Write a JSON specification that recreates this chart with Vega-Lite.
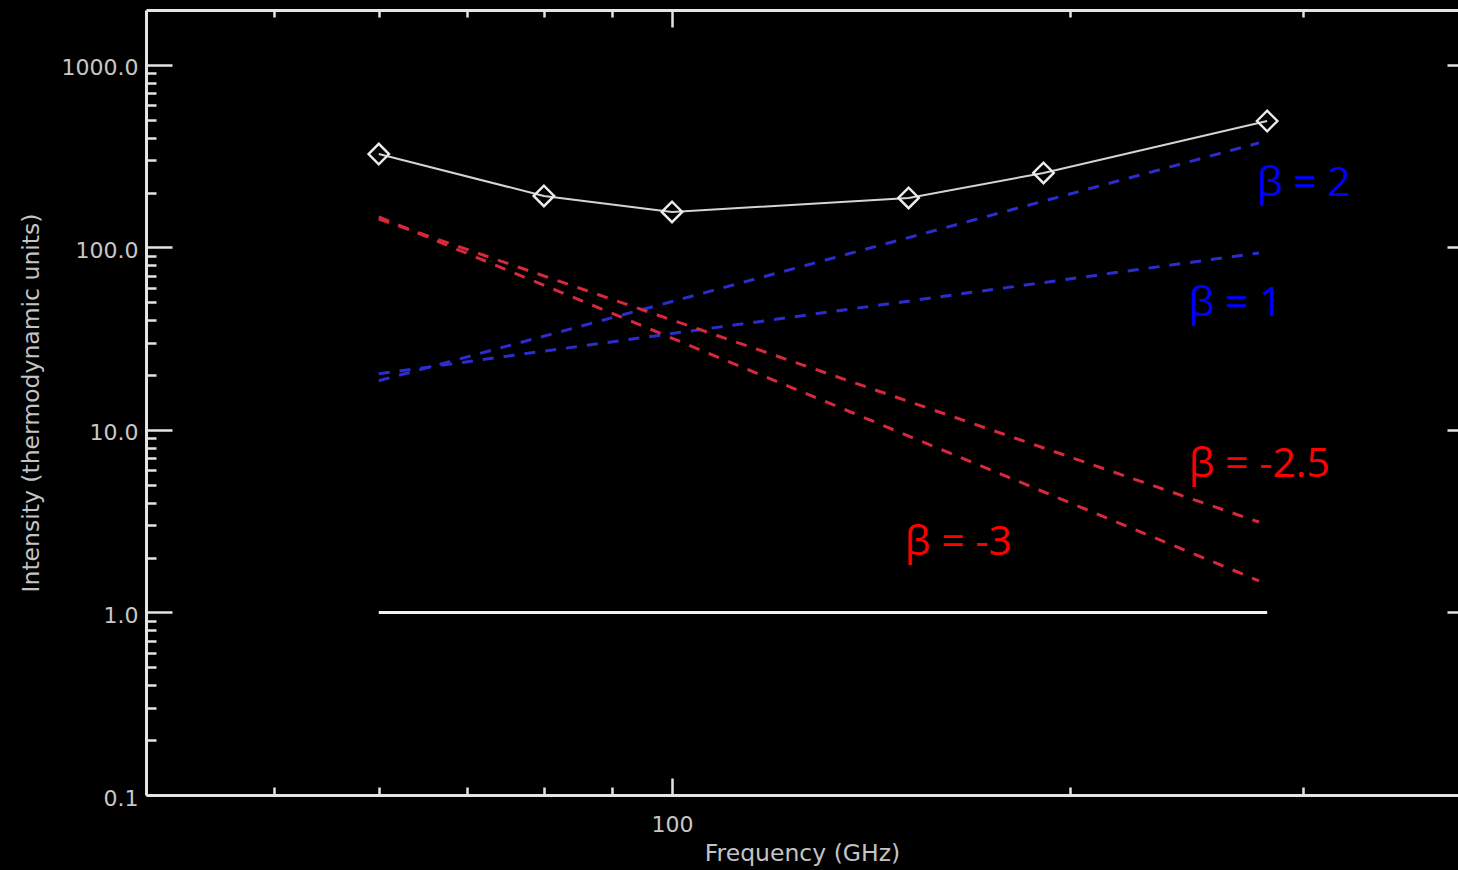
{
  "$schema": "https://vega.github.io/schema/vega-lite/v6.json",
  "width": 1312,
  "height": 785,
  "autosize": {"type": "none"},
  "padding": {"left": 146, "top": 10, "right": 0, "bottom": 75},
  "background": "#000000",
  "config": {
    "view": {"stroke": null},
    "axis": {
      "grid": false,
      "domainColor": "#e4e4e4",
      "domainWidth": 3,
      "tickColor": "#e4e4e4",
      "tickWidth": 2.5,
      "labelColor": "#c8c8c8",
      "labelFont": "DejaVu Sans",
      "labelFontSize": 22,
      "titleColor": "#c4c4c4",
      "titleFont": "DejaVu Sans",
      "titleFontSize": 23.5,
      "titleFontWeight": "normal",
      "labelFlush": false,
      "labelOverlap": false
    }
  },
  "datasets": {
    "obs": [
      {"freq": 60, "intensity": 325},
      {"freq": 80, "intensity": 191.5},
      {"freq": 100, "intensity": 156.5},
      {"freq": 151, "intensity": 186.7},
      {"freq": 191, "intensity": 256},
      {"freq": 282, "intensity": 493}
    ],
    "unity": [
      {"freq": 60, "intensity": 1},
      {"freq": 282, "intensity": 1}
    ],
    "models": [
      {"beta": 2, "freq": 60, "intensity": 18.6},
      {"beta": 2, "freq": 278, "intensity": 374},
      {"beta": 1, "freq": 60, "intensity": 20.3},
      {"beta": 1, "freq": 278, "intensity": 93.3},
      {"beta": -2.5, "freq": 60, "intensity": 143},
      {"beta": -2.5, "freq": 278, "intensity": 3.13},
      {"beta": -3, "freq": 60, "intensity": 147},
      {"beta": -3, "freq": 278, "intensity": 1.49}
    ],
    "labels": [
      {"beta": 2, "freq": 277, "intensity": 191.5, "text": "β = 2"},
      {"beta": 1, "freq": 246, "intensity": 42.1, "text": "β = 1"},
      {"beta": -2.5, "freq": 246, "intensity": 5.53, "text": "β = -2.5"},
      {"beta": -3, "freq": 150, "intensity": 2.07, "text": "β = -3"}
    ]
  },
  "resolve": {"axis": {"x": "independent", "y": "independent"}},
  "layer": [
    {
      "data": {"name": "obs"},
      "mark": {"type": "line", "color": "#d4d4d4", "strokeWidth": 2},
      "encoding": {
        "x": {"field": "freq", "type": "quantitative",
          "scale": {"type": "log", "domain": [40, 393.2], "nice": false},
          "axis": {"orient": "bottom", "values": [100], "ticks": false, "domain": true,
            "labelPadding": 19, "title": "Frequency (GHz)", "titlePadding": 6}},
        "y": {"field": "intensity", "type": "quantitative",
          "scale": {"type": "log", "domain": [0.1, 2000], "nice": false},
          "axis": {"orient": "left", "values": [0.1, 1, 10, 100, 1000], "format": ".1f",
            "ticks": false, "domain": true, "labelPadding": 8, "labelOffset": 3,
            "title": "Intensity (thermodynamic units)", "titlePadding": 18}}
      }
    },
    {
      "data": {"name": "obs"},
      "mark": {"type": "point", "shape": "diamond", "filled": false, "stroke": "#ececec", "strokeWidth": 2.4, "size": 420, "opacity": 1},
      "encoding": {
        "x": {"field": "freq", "type": "quantitative",
          "scale": {"type": "log", "domain": [40, 393.2], "nice": false},
          "axis": {"orient": "bottom", "values": [100], "tickSize": -17, "labels": false, "domain": false, "title": null}},
        "y": {"field": "intensity", "type": "quantitative",
          "scale": {"type": "log", "domain": [0.1, 2000], "nice": false},
          "axis": {"orient": "left", "values": [0.1, 1, 10, 100, 1000], "tickSize": -26, "labels": false, "domain": false, "title": null}}
      }
    },
    {
      "data": {"name": "unity"},
      "mark": {"type": "line", "color": "#f2f2f2", "strokeWidth": 3},
      "encoding": {
        "x": {"field": "freq", "type": "quantitative",
          "scale": {"type": "log", "domain": [40, 393.2], "nice": false},
          "axis": {"orient": "bottom", "values": [50, 60, 70, 80, 90, 200, 300], "tickSize": -8, "labels": false, "domain": false, "title": null}},
        "y": {"field": "intensity", "type": "quantitative",
          "scale": {"type": "log", "domain": [0.1, 2000], "nice": false},
          "axis": {"orient": "left",
            "values": [0.2, 0.3, 0.4, 0.5, 0.6, 0.7, 0.8, 0.9, 2, 3, 4, 5, 6, 7, 8, 9, 20, 30, 40, 50, 60, 70, 80, 90, 200, 300, 400, 500, 600, 700, 800, 900],
            "tickSize": -10, "labels": false, "domain": false, "title": null}}
      }
    },
    {
      "data": {"name": "models"},
      "mark": {"type": "line", "strokeWidth": 3, "strokeDash": [11, 10]},
      "encoding": {
        "x": {"field": "freq", "type": "quantitative",
          "scale": {"type": "log", "domain": [40, 393.2], "nice": false},
          "axis": {"orient": "top", "values": [100], "tickSize": -17, "labels": false, "domain": true, "title": null}},
        "y": {"field": "intensity", "type": "quantitative",
          "scale": {"type": "log", "domain": [0.1, 2000], "nice": false},
          "axis": {"orient": "right", "values": [0.1, 1, 10, 100, 1000], "tickSize": -11, "labels": false, "domain": false, "title": null}},
        "stroke": {"field": "beta", "type": "quantitative",
          "scale": {"type": "threshold", "domain": [0], "range": ["#d8283c", "#2c2cd0"]},
          "legend": null}
      }
    },
    {
      "data": {"name": "labels"},
      "mark": {"type": "text", "font": "Open Sans", "fontSize": 41, "align": "left", "baseline": "alphabetic"},
      "encoding": {
        "x": {"field": "freq", "type": "quantitative",
          "scale": {"type": "log", "domain": [40, 393.2], "nice": false},
          "axis": {"orient": "top", "values": [50, 60, 70, 80, 90, 200, 300], "tickSize": -7, "labels": false, "domain": false, "title": null}},
        "y": {"field": "intensity", "type": "quantitative",
          "scale": {"type": "log", "domain": [0.1, 2000], "nice": false},
          "axis": null},
        "text": {"field": "text"},
        "color": {"field": "beta", "type": "quantitative",
          "scale": {"type": "threshold", "domain": [0], "range": ["#ff0000", "#0000ff"]},
          "legend": null}
      }
    }
  ]
}
